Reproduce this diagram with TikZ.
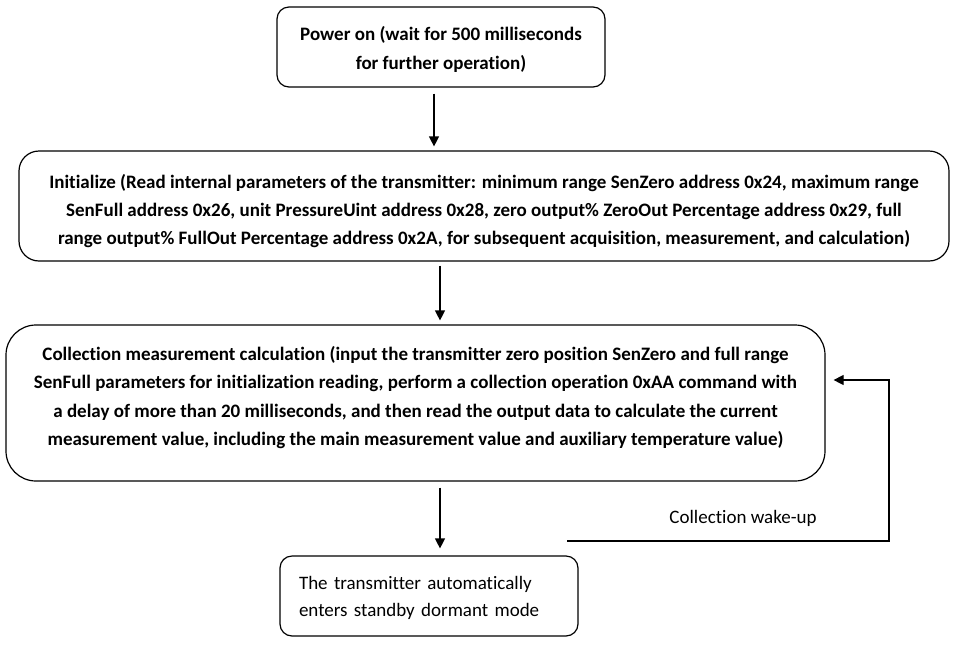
\documentclass[tikz,border=0pt]{standalone}
\usepackage{fontspec}
\setmainfont{Carlito}[Ligatures=NoCommon]
\usetikzlibrary{arrows.meta,calc}
\begin{document}
\begin{tikzpicture}[x=1pt,y=-1pt,
  box/.style={draw, line width=1.2pt, align=center, inner sep=0pt,
    font=\fontsize{19}{28.3}\selectfont\bfseries},
  plainbox/.style={draw, line width=1.2pt, align=left, inner xsep=19pt, inner ysep=0pt,
    font=\fontsize{19}{27}\selectfont},
  lbl/.style={font=\fontsize{19}{22}\selectfont, inner sep=0pt},
  arr/.style={-{Triangle[length=10pt,width=10pt]}, line width=1.2pt}]
\useasboundingbox (0,0) rectangle (956,649);
\node[box, rounded corners=12pt, minimum width=328pt, minimum height=80pt] (p) at (441,47)
  {\rule{0pt}{19pt}Power on (wait for 500 milliseconds\\for further operation)};
\node[box, rounded corners=20pt, minimum width=930pt, minimum height=110pt] (i) at (484,206)
  {\rule{0pt}{24pt}Initialize (Read internal parameters of the transmitter: minimum range SenZero address 0x24, maximum range\\
   SenFull address 0x26, unit PressureUint address 0x28, zero output\% ZeroOut Percentage address 0x29, full\\
   range output\% FullOut Percentage address 0x2A, for subsequent acquisition, measurement, and calculation)};
\node[box, rounded corners=30pt, minimum width=819pt, minimum height=156pt] (c) at (415.5,403)
  {Collection measurement calculation (input the transmitter zero position SenZero and full range\\
   SenFull parameters for initialization reading, perform a collection operation 0xAA command with\\
   a delay of more than 20 milliseconds, and then read the output data to calculate the current\\
   measurement value, including the main measurement value and auxiliary temperature value)\rule[-14pt]{0pt}{0pt}};
\node[plainbox, rounded corners=12pt, text width=260pt, minimum height=80pt] (s) at (429,596)
  {\rule{0pt}{17pt}The transmitter automatically\\enters standby dormant mode};
\node[lbl] (w) at (743,518) {Collection wake-up};
\coordinate (x1) at (434,0);
\coordinate (x2) at (440,0);
\coordinate (fb) at (567,541);
\coordinate (fc) at (889,380);
\draw[arr] ($(p.south -| x1)+(0,6)$) -- ($(i.north -| x1)+(0,-4)$);
\draw[arr] ($(i.south -| x2)+(0,4)$) -- ($(c.north -| x2)+(0,-4)$);
\draw[arr] ($(c.south -| x2)+(0,6)$) -- ($(s.north -| x2)+(0,-7)$);
\draw[arr] (fb) -| (fc) -- ($(c.east |- fc)+(8,0)$);
\end{tikzpicture}
\end{document}
